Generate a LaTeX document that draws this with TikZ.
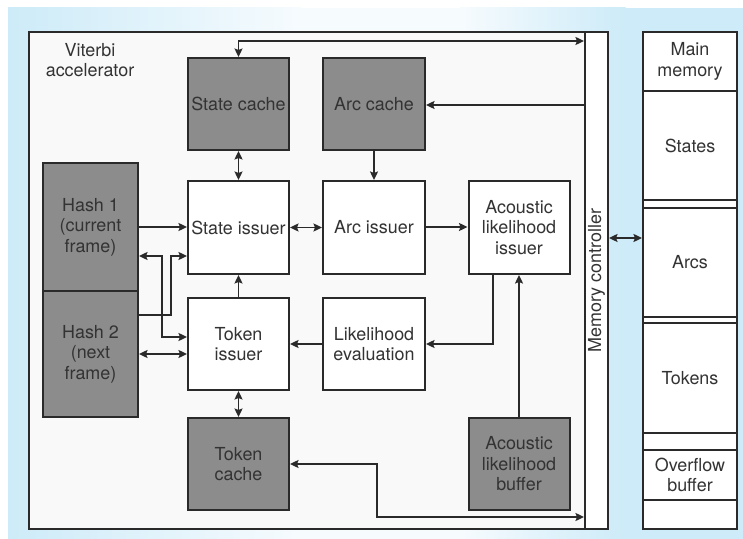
\documentclass[tikz,border=0pt]{standalone}
\usepackage{fontspec}
\setmainfont{TeX Gyre Heros}
\usetikzlibrary{arrows.meta}
\definecolor{panelblue}{HTML}{CDEBF8}
\definecolor{panelwhite}{HTML}{F6FBFE}
\definecolor{ink}{HTML}{2A2A2A}
\definecolor{txt}{HTML}{333333}
\definecolor{unitgray}{HTML}{8C8C8C}
\definecolor{chipfill}{HTML}{F9F9F9}

\begin{document}
\begin{tikzpicture}[x=1bp,y=-1bp,
  font=\fontsize{18}{20.5}\selectfont, text=txt,
  unit/.style={draw=ink, line width=2bp, rectangle, align=center, inner sep=0pt,
    fill=white, minimum width=101bp, minimum height=92bp},
  cachebox/.style={unit, fill=unitgray},
  tip/.tip={Stealth[length=8.5bp,width=8bp,inset=1.5bp]},
  arr/.style={draw=ink, line width=1.7bp, -tip},
  barr/.style={draw=ink, line width=1.7bp, tip-tip},
  divider/.style={draw=ink, line width=1.8bp},
]
\useasboundingbox (0,0) rectangle (743,539);

% backdrop panel
\fill[white] (0,0) rectangle (743,539);
\shade[left color=panelblue, right color=panelwhite] (8,8) rectangle (300.5,539);
\fill[panelwhite] (300,8) rectangle (460.5,539);
\shade[left color=panelwhite, right color=panelblue] (460,8) rectangle (625.5,539);
\fill[panelblue] (625,8) rectangle (743,539);

% accelerator chip and memory controller
\node[draw=ink, line width=2.4bp, fill=chipfill, inner sep=0pt,
      minimum width=579bp, minimum height=497bp] (chip) at (318.5,280.5) {};
\node[align=center] (title) at (90,60) {Viterbi\\accelerator};
\node[draw=ink, line width=2bp, fill=white, inner sep=0pt,
      minimum width=23bp, minimum height=497bp] (mc) at (596.5,280.5) {};
\node[rotate=90] (mclabel) at (mc.center) {Memory controller};

% functional units
\node[cachebox] (sc)  at (238.5,104)   {State cache};
\node[cachebox, minimum width=102bp] (ac) at (374,104) {Arc cache};
\node[unit, minimum height=93bp] (si)  at (238.5,227.5) {State issuer};
\node[unit, minimum height=93bp, minimum width=102bp] (ai) at (374,227.5) {Arc issuer};
\node[unit, minimum height=93bp] (ali) at (519,227.5) {Acoustic\\likelihood\\issuer};
\node[unit] (ti)  at (238.5,344) {Token\\issuer};
\node[unit, minimum width=102bp] (le) at (374,344) {Likelihood\\evaluation};
\node[cachebox] (tc)  at (238.5,464) {Token\\cache};
\node[cachebox] (alb) at (519,464) {Acoustic\\likelihood\\buffer};
\node[cachebox, minimum width=95bp, minimum height=128bp] (h1) at (90.5,227) {Hash 1\\(current\\frame)};
\node[cachebox, minimum width=95bp, minimum height=126bp] (h2) at (90.5,354) {Hash 2\\(next\\frame)};

% main memory
\node[draw=ink, line width=2bp, fill=white, inner sep=0pt,
      minimum width=94bp, minimum height=497bp] (mem) at (690,280.5) {};
\foreach \yy in {91,200,208,317,323,433,450,500}
  \draw[divider] (643,\yy) -- (737,\yy);
\node[align=center] (mmain)   at (690,61.5)  {Main\\memory};
\node               (mstates) at (690,145.5) {States};
\node               (marcs)   at (690,262.5) {Arcs};
\node               (mtokens) at (690,378)   {Tokens};
\node[align=center] (mover)   at (690,475)   {Overflow\\buffer};

% bend points of the routed connectors
\coordinate (ktop) at (238.5,41);
\coordinate (b1) at (162,256);
\coordinate (b2) at (162,337);
\coordinate (b3) at (171,315);
\coordinate (b4) at (171,256);
\coordinate (b5) at (493,344);
\coordinate (b6) at (377,464);
\coordinate (b7) at (377,517);
\coordinate (b8) at (620,238);
\coordinate (b9) at (620,105);
\coordinate (b10) at (440,227);

% connectors
\draw[barr] (sc.north) -- (ktop) -- (mc.west |- ktop);
\draw[arr]  (mc.west |- b9) -- (ac.east |- b9);
\draw[barr] (sc.south) -- (si.north);
\draw[arr]  (ac.south) -- (ai.north);
\draw[barr] (si.east) -- (ai.west);
\draw[arr]  (ai.east |- b10) -- (ali.west |- b10);
\draw[arr]  (h1.east) -- (si.west |- h1.east);
\draw[barr] (h1.east |- b1) -- (b1) -- (b2) -- (ti.west |- b2);
\draw[arr]  (h2.east |- b3) -- (b3) -- (b4) -- (si.west |- b4);
\draw[barr] (h2.east) -- (ti.west |- h2.east);
\draw[arr]  (ti.north) -- (si.south);
\draw[barr] (ti.south) -- (tc.north);
\draw[arr]  (le.west) -- (ti.east);
\draw[arr]  (ali.south -| b5) -- (b5) -- (le.east);
\draw[arr]  (alb.north) -- (ali.south);
\draw[barr] (tc.east) -- (b6) -- (b7) -- (mc.west |- b7);
\draw[barr] (mc.east |- b8) -- (mem.west |- b8);
\end{tikzpicture}
\end{document}
